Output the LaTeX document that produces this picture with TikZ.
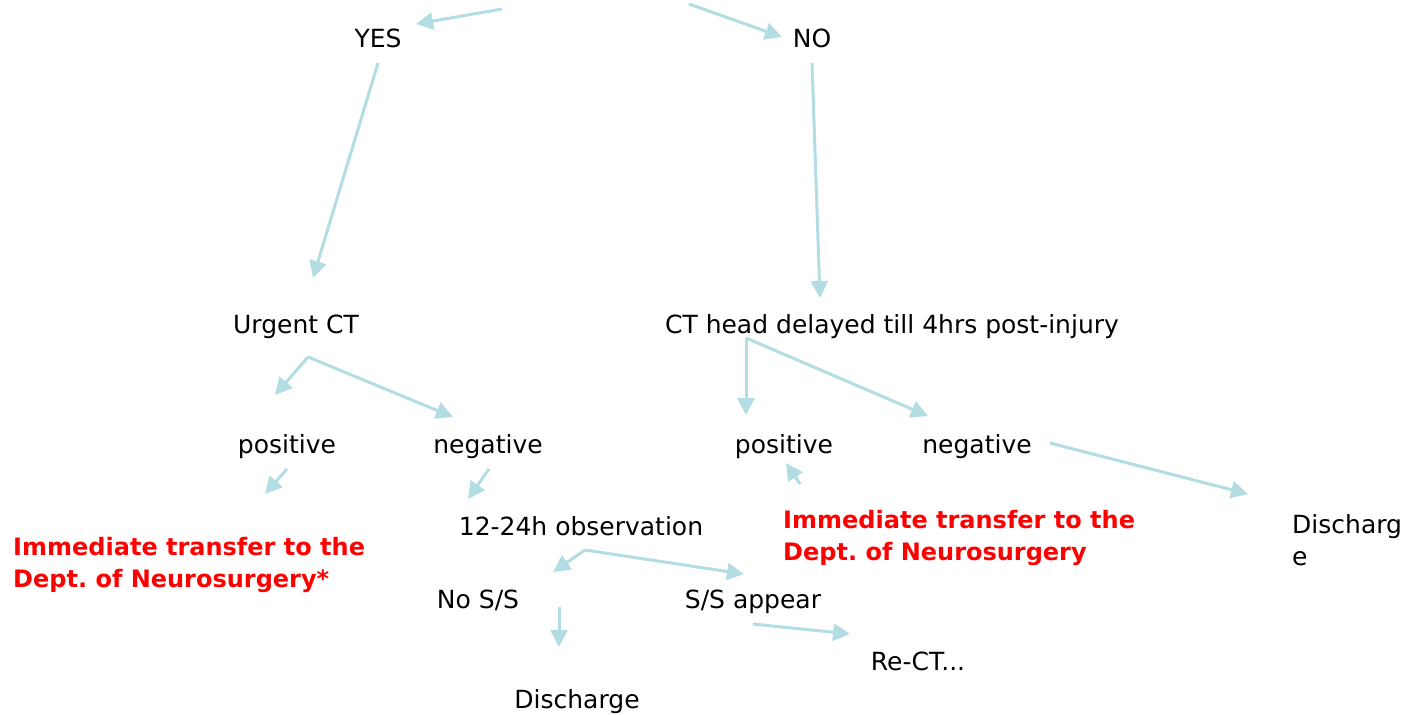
\documentclass[tikz,border=0pt]{standalone}
\usepackage{fontspec}
\setmainfont{DejaVu Sans}
\usetikzlibrary{arrows.meta}
\definecolor{arrowblue}{RGB}{178,221,227}
\definecolor{alertred}{RGB}{255,0,0}

\begin{document}
\frenchspacing
\begin{tikzpicture}[x=1pt, y=-1pt, line join=round,
    lbl/.style={inner sep=0pt, anchor=base, font=\fontsize{25}{32}\selectfont},
    twolines/.style={inner sep=0pt, anchor=north west, align=left, font=\fontsize{25}{32}\selectfont},
    redlbl/.style={twolines, text=alertred, font=\fontsize{24}{32}\selectfont\bfseries},
    arr/.style={draw=arrowblue, line width=3pt, -{Triangle[length=17pt,width=17pt]}}]
  \useasboundingbox (0,0) rectangle (1406,715);

  % labels
  \node[lbl] (yes) at (378,47) {YES};
  \node[lbl] (no) at (812,47) {NO};
  \node[lbl] (urgent) at (296,333) {Urgent CT};
  \node[lbl] (delayed) at (892,333) {CT head delayed till 4hrs post-injury};
  \node[lbl] (posa) at (287,453) {positive};
  \node[lbl] (nega) at (488,453) {negative};
  \node[lbl] (posb) at (784,453) {positive};
  \node[lbl] (negb) at (977,453) {negative};
  \node[lbl] (obs) at (581,535) {12-24h observation};
  \node[lbl] (noss) at (478,608) {No S/S};
  \node[lbl] (ssappear) at (753,608) {S/S appear};
  \node[lbl] (rect) at (918,670) {Re-CT...};
  \node[lbl] (dischobs) at (577,708) {Discharge};
  \node[redlbl] (transfera) at (13,537) {Immediate transfer to the\\Dept. of Neurosurgery*};
  \node[redlbl] (transferb) at (783,510) {Immediate transfer to the\\Dept. of Neurosurgery};
  \node[twolines] (dischneg) at (1292,514) {Discharg\\e};

  % arrow ends
  \coordinate (topl) at (502,9);     \coordinate (yestip) at (416,24);
  \coordinate (topr) at (689,4);     \coordinate (notip) at (782,37);
  \coordinate (yesfoot) at (378,63); \coordinate (urgtip) at (313,278);
  \coordinate (nofoot) at (812,63);  \coordinate (deltip) at (820,298);
  \coordinate (urgfork) at (308,357);
  \coordinate (urgpos) at (275,395); \coordinate (urgneg) at (453,417);
  \coordinate (delfork) at (746,338);
  \coordinate (delpos) at (746,415); \coordinate (delneg) at (928,416);
  \coordinate (posafoot) at (287,469); \coordinate (posatip) at (265,494);
  \coordinate (negafoot) at (489,469); \coordinate (negatip) at (468,499);
  \coordinate (posbfoot) at (800,484); \coordinate (posbtip) at (786,463);
  \coordinate (negbfoot) at (1050,443); \coordinate (negbtip) at (1248,494);
  \coordinate (obsfork) at (585,550);
  \coordinate (obsno) at (553,572);  \coordinate (obsyes) at (744,574);
  \coordinate (nossfoot) at (559,607); \coordinate (nosstip) at (559,647);
  \coordinate (ssfoot) at (753,624); \coordinate (sstip) at (850,634);

  % connectors
  \foreach \a/\b in {topl/yestip, topr/notip, yesfoot/urgtip, nofoot/deltip,
      urgfork/urgpos, urgfork/urgneg, delfork/delpos, delfork/delneg,
      posafoot/posatip, negafoot/negatip, posbfoot/posbtip, negbfoot/negbtip,
      obsfork/obsno, obsfork/obsyes, nossfoot/nosstip, ssfoot/sstip}
    \draw[arr] (\a) -- (\b);
\end{tikzpicture}
\end{document}
